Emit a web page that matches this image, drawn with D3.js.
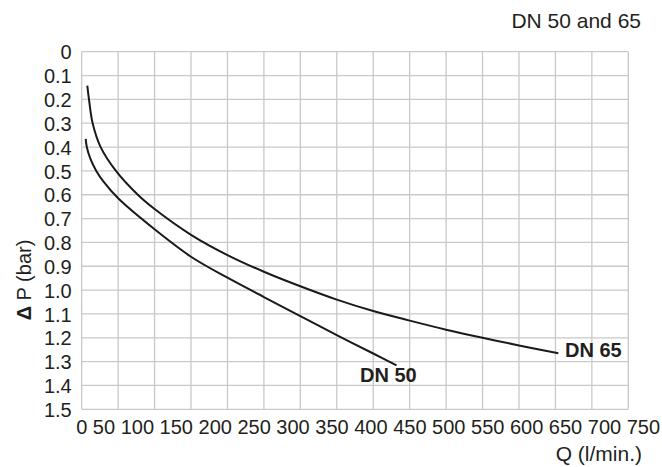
<!DOCTYPE html>
<html>
<head>
<meta charset="utf-8">
<script src="https://cdn.jsdelivr.net/npm/d3@7"></script>
<style>
  html, body { margin: 0; padding: 0; background: #fff; }
  svg { display: block; font-family: "Liberation Sans", Arial, sans-serif; }
</style>
</head>
<body>
<svg id="chart" width="662" height="467"></svg>
<script>
// ---- data ----
const chartTitle = "DN 50 and 65";
const xTitle = "Q (l/min.)";
const yTitleSymbol = "\u0394";
const yTitleText = " P (bar)";
const xTickValues = [0, 50, 100, 150, 200, 250, 300, 350, 400, 450, 500, 550, 600, 650, 700, 750];
const xTickLabels = ["0", "50", "100", "150", "200", "250", "300", "350", "400", "450", "500", "550", "600", "650", "700", "750"];
const yTickValues = [0, 0.1, 0.2, 0.3, 0.4, 0.5, 0.6, 0.7, 0.8, 0.9, 1.0, 1.1, 1.2, 1.3, 1.4, 1.5];
const yTickLabels = ["0", "0.1", "0.2", "0.3", "0.4", "0.5", "0.6", "0.7", "0.8", "0.9", "1.0", "1.1", "1.2", "1.3", "1.4", "1.5"];

const seriesNames = ["DN 50", "DN 65"];
const dn50Q = [5.5, 7, 12, 20, 30, 50, 100, 150, 200, 250, 300, 350, 400, 432];
const dn50P = [0.366, 0.40, 0.45, 0.50, 0.545, 0.615, 0.745, 0.86, 0.948, 1.029, 1.109, 1.189, 1.266, 1.316];
const dn65Q = [7.7, 10, 15, 26, 47, 77, 100, 150, 200, 250, 300, 350, 400, 450, 500, 550, 600, 654];
const dn65P = [0.142, 0.20, 0.30, 0.40, 0.50, 0.60, 0.66, 0.768, 0.853, 0.923, 0.984, 1.04, 1.088, 1.128, 1.166, 1.20, 1.232, 1.265];

(function () {
// ---- layout ----
const svg = d3.select("#chart");
const mLeft = 81.7, mRight = 628.3, mTop = 51.7, mBottom = 409.3;
const x = d3.scaleLinear().domain([0, 750]).range([mLeft, mRight]);
const y = d3.scaleLinear().domain([0, 1.5]).range([mTop, mBottom]);
const textColor = "#231f20";
const gridColor = "#c9c9c9";

// grid
const grid = svg.append("g");
grid.selectAll("line.v").data(xTickValues).join("line").attr("class", "v")
  .attr("x1", d => x(d)).attr("x2", d => x(d))
  .attr("y1", mTop).attr("y2", mBottom)
  .attr("stroke", gridColor).attr("stroke-width", 1.3);
grid.selectAll("line.h").data(yTickValues).join("line").attr("class", "h")
  .attr("x1", mLeft).attr("x2", mRight)
  .attr("y1", d => y(d)).attr("y2", d => y(d))
  .attr("stroke", gridColor).attr("stroke-width", 1.3);

// y axis labels
const yAxis = d3.axisLeft(y).tickValues(yTickValues)
  .tickFormat((d, i) => yTickLabels[i]).tickSize(0).tickPadding(10);
const ya = svg.append("g").attr("transform", `translate(${mLeft},0)`).call(yAxis);
ya.select(".domain").remove();
ya.selectAll("text").attr("font-size", 20).attr("fill", textColor)
  .attr("font-family", "Liberation Sans, Arial, sans-serif").attr("dy", "0.36em");

// x axis labels (set as one continuous line, as in the reference)
svg.append("text")
  .attr("x", x(xTickValues[0]) - 5.5).attr("y", 434)
  .attr("font-size", 20).attr("fill", textColor)
  .text(xTickLabels.join(" "));

// titles
svg.append("text").attr("x", 641).attr("y", 28).attr("text-anchor", "end")
  .attr("font-size", 21).attr("fill", textColor).text(chartTitle);
svg.append("text").attr("x", 642).attr("y", 461).attr("text-anchor", "end")
  .attr("font-size", 21).attr("fill", textColor).text(xTitle);
const yt = svg.append("text").attr("transform", "translate(31,280) rotate(-90)")
  .attr("text-anchor", "middle").attr("font-size", 20).attr("fill", textColor);
yt.append("tspan").attr("font-weight", "bold").text(yTitleSymbol);
yt.append("tspan").text(yTitleText);

// curves
const line = d3.line().x(d => x(d[0])).y(d => y(d[1])).curve(d3.curveCatmullRom.alpha(0.5));
const series = [
  { name: seriesNames[0], pts: dn50Q.map((q, i) => [q, dn50P[i]]) },
  { name: seriesNames[1], pts: dn65Q.map((q, i) => [q, dn65P[i]]) }
];
svg.selectAll("path.curve").data(series).join("path")
  .attr("class", "curve")
  .attr("d", d => line(d.pts))
  .attr("fill", "none").attr("stroke", "#1a1a1a").attr("stroke-width", 2);

// series labels
svg.append("text").attr("x", 360).attr("y", 381.5)
  .attr("font-size", 20).attr("font-weight", "bold").attr("fill", textColor).text(seriesNames[0]);
svg.append("text").attr("x", 565).attr("y", 357)
  .attr("font-size", 20).attr("font-weight", "bold").attr("fill", textColor).text(seriesNames[1]);
})();
</script>
</body>
</html>
